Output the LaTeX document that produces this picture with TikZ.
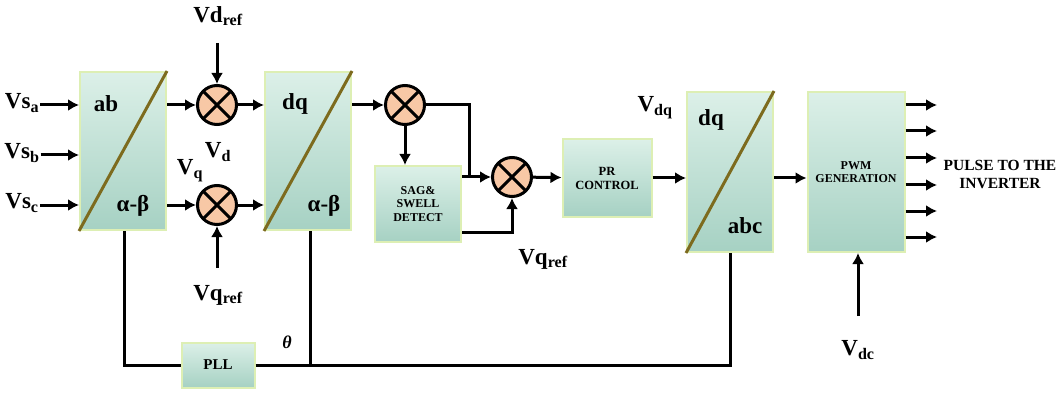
\documentclass[tikz,border=0pt]{standalone}
\usepackage{fontspec}
\setmainfont{Liberation Serif}
\usepackage{tikz}
\usetikzlibrary{shapes,arrows,arrows.meta,positioning}
\definecolor{boxtop}{HTML}{DCF0E8}
\definecolor{boxbot}{HTML}{A6D1C3}
\definecolor{boxedge}{HTML}{DDEFB4}
\definecolor{diag}{HTML}{7D6B1E}
\definecolor{prodfill}{HTML}{F8C8A6}
\newcommand{\labfont}{\fontsize{23}{25}\selectfont\bfseries}
\newcommand{\boxfont}{\fontsize{12}{13.5}\selectfont\bfseries}
\tikzset{block/.style = {draw=boxedge, line width=2pt, rectangle, top color=boxtop, bottom color=boxbot, align=center},
         prod/.style = {draw, circle, line width=3pt, fill=prodfill, minimum size=39pt, inner sep=0pt,
                        path picture={\draw[line width=3pt] (path picture bounding box.north west) -- (path picture bounding box.south east)
                                      (path picture bounding box.north east) -- (path picture bounding box.south west);}},
         conv/.style = {block, minimum width=86pt, minimum height=158pt},
         lab/.style = {font=\labfont, inner sep=1pt},
         wire/.style = {line width=3pt},
         arr/.style = {wire, -{Latex[length=11pt,width=12pt]}},
}
\begin{document}
\begin{tikzpicture}[x=1pt, y=-1pt, auto]
  \useasboundingbox (0,0) rectangle (1062,398);

  % conversion blocks
  \node[conv] (ab) at (123,151) {};
  \draw[diag, line width=3pt] (ab.south west) -- (ab.north east);
  \node[lab] at (106,104) {ab};
  \node[lab] at (133,206) {α-β};

  \node[conv] (dq) at (308,151) {};
  \draw[diag, line width=3pt] (dq.south west) -- (dq.north east);
  \node[lab] at (295,104) {dq};
  \node[lab] at (324,206) {α-β};

  \node[conv, minimum height=160pt] (dqabc) at (730,172) {};
  \draw[diag, line width=3pt] (dqabc.south west) -- (dqabc.north east);
  \node[lab] at (711,120) {dq};
  \node[lab] at (745,226) {abc};

  \node[block, minimum width=97pt, minimum height=160pt, font=\boxfont] (pwm) at (856,172) {PWM\\GENERATION};
  \node[block, minimum width=86pt, minimum height=76pt, font=\boxfont] (sag) at (418,204) {SAG\&\\SWELL\\DETECT};
  \node[block, minimum width=89pt, minimum height=77pt, font=\fontsize{12.5}{14}\selectfont\bfseries] (pr) at (607,178) {PR\\CONTROL};
  \node[block, minimum width=73pt, minimum height=45pt, font=\fontsize{15}{17}\selectfont\bfseries] (pll) at (218,365) {PLL};

  % multipliers
  \node[prod] (m1) at (217,105) {};
  \node[prod] (m2) at (217,205) {};
  \node[prod] (m3) at (405,105) {};
  \node[prod] (m4) at (512,177) {};

  % inputs
  \node[lab] (va) at (22,103) {Vs\textsubscript{a}};
  \node[lab] (vb) at (22,153) {Vs\textsubscript{b}};
  \node[lab] (vc) at (22,203) {Vs\textsubscript{c}};
  \draw[arr] (va.east |- 0,105) -- (ab.west |- 0,105);
  \draw[arr] (vb.east |- 0,155) -- (ab.west |- 0,155);
  \draw[arr] (vc.east |- 0,205) -- (ab.west |- 0,205);

  % references
  \node[lab] (vdref) at (218,16) {Vd\textsubscript{ref}};
  \coordinate (vdin) at (217,43);
  \draw[arr] (vdin) -- (m1.north);
  \node[lab] (vqref) at (218,295) {Vq\textsubscript{ref}};
  \coordinate (vqin) at (217,268);
  \draw[arr] (vqin) -- (m2.south);
  \node[lab] (vd) at (218,152) {V\textsubscript{d}};
  \node[lab] (vq) at (190,171) {V\textsubscript{q}};

  \draw[arr] (ab.east |- m1) -- (m1);
  \draw[arr] (ab.east |- m2) -- (m2);
  \draw[arr] (m1) -- (dq.west |- m1);
  \draw[arr] (m2) -- (dq.west |- m2);
  \draw[arr] (dq.east |- m3) -- (m3);

  % sag and swell path
  \coordinate (j1) at (469,177);
  \draw[wire] (m3) -| (j1);
  \draw[arr] (sag.east |- m4) -- (m4);
  \draw[arr] (m3) -- (sag.north -| m3);
  \draw[arr] (sag.east |- 0,232) -| (m4.south);
  \node[lab] (vqref2) at (543,259) {Vq\textsubscript{ref}};

  \draw[arr] (m4) -- (pr);
  \draw[arr] (pr) -- (dqabc.west |- pr);
  \node[lab] (vdq) at (655,108) {V\textsubscript{dq}};
  \draw[arr] (dqabc.east |- pr) -- (pwm.west |- pr);

  % pulses
  \foreach \i/\y in {1/105,2/131,3/158,4/185,5/211,6/237}{
    \coordinate (p\i) at (937,\y);
    \draw[arr] (pwm.east |- p\i) -- (p\i);
  }
  \node[font=\fontsize{15.5}{18}\selectfont\bfseries, align=center] (pulse) at (1000,174) {PULSE TO THE\\INVERTER};

  \node[lab] (vdc) at (858,350) {V\textsubscript{dc}};
  \coordinate (vdcin) at (858,316);
  \draw[arr] (vdcin) -- (pwm.south -| vdcin);

  % PLL loop
  \draw[wire] (ab.south -| 124,0) |- (pll.west);
  \draw[wire] (pll.east) -| (dqabc.south);
  \draw[wire] (dq.south -| 310,0) -- (310,365);
  \node[font=\fontsize{18}{20}\selectfont\bfseries\itshape] (theta) at (287,342) {θ};

\end{tikzpicture}
\end{document}
